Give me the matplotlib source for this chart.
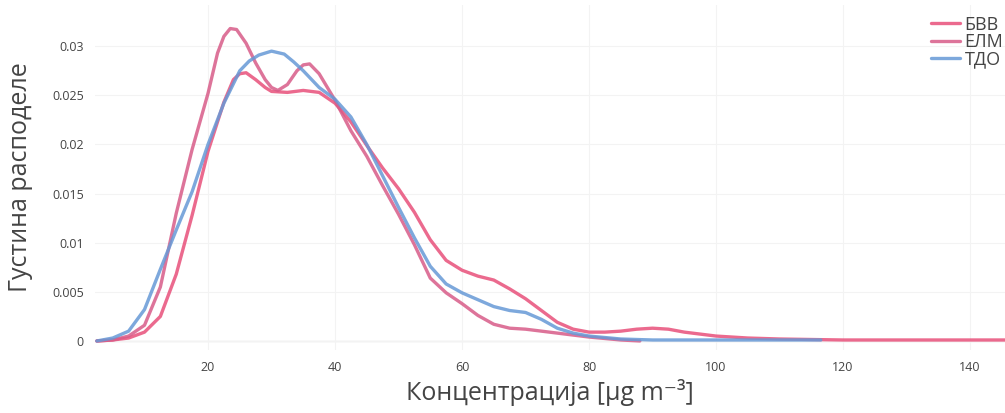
import matplotlib
matplotlib.use("Agg")

import matplotlib.pyplot as plt

plt.rcParams["font.family"] = ["Open Sans", "DejaVu Sans"]

# --- data ---
bvv_x = [2.5, 5, 7.5, 10, 12.5, 15, 17.5, 20, 22.5, 24, 25, 26, 27.5, 29, 30, 32.5,
         35, 37.5, 40, 42.5, 45, 47.5, 50, 52.5, 55, 57.5, 60, 62.5, 65, 67.5, 70,
         72.5, 75, 77.5, 80, 82.5, 85, 87.5, 90, 92.5, 95, 100, 105, 110, 120, 130, 146]
bvv_y = [0.0, 0.0001, 0.0003, 0.0009, 0.0025, 0.0068, 0.0128, 0.0193, 0.0243, 0.0266,
         0.0272, 0.0273, 0.0266, 0.0258, 0.0254, 0.0253, 0.0255, 0.0253, 0.0242,
         0.0223, 0.0199, 0.0176, 0.0155, 0.0131, 0.0103, 0.0082, 0.0072, 0.0066,
         0.0062, 0.0053, 0.0043, 0.0031, 0.0019, 0.0012, 0.0009, 0.0009, 0.0010,
         0.0012, 0.0013, 0.0012, 0.0009, 0.0005, 0.0003, 0.0002, 0.0001, 0.0001, 0.0001]

elm_x = [2.5, 5, 7.5, 10, 12.5, 15, 17.5, 20, 21.5, 22.5, 23.5, 24.5, 26, 27.5, 29,
         30, 31, 32.5, 34, 35, 36, 37.5, 40, 42.5, 45, 47.5, 50, 52.5, 55, 57.5, 60,
         62.5, 65, 67.5, 70, 72.5, 75, 77.5, 80, 85, 88]
elm_y = [0.0, 0.0001, 0.0005, 0.0016, 0.0055, 0.0130, 0.0195, 0.0252, 0.0293, 0.0310,
         0.0318, 0.0317, 0.0303, 0.0283, 0.0266, 0.0258, 0.0255, 0.0261, 0.0275,
         0.0281, 0.0282, 0.0272, 0.0245, 0.0214, 0.0188, 0.0158, 0.0129, 0.0098,
         0.0064, 0.0049, 0.0038, 0.0026, 0.0017, 0.0013, 0.0012, 0.0010, 0.0008,
         0.0006, 0.0004, 0.0001, 0.0]

tdo_x = [2.5, 5, 7.5, 10, 12.5, 15, 17.5, 20, 22.5, 25, 26.5, 28, 30, 32, 33.5, 35,
         37.5, 40, 42.5, 45, 47.5, 50, 52.5, 55, 57.5, 60, 62.5, 65, 67.5, 70, 72.5,
         75, 77.5, 80, 85, 90, 100, 110, 116.5]
tdo_y = [0.0, 0.0003, 0.0010, 0.0032, 0.0073, 0.0113, 0.0152, 0.0200, 0.0242, 0.0275,
         0.0285, 0.0291, 0.0295, 0.0292, 0.0284, 0.0275, 0.0258, 0.0246, 0.0228,
         0.0200, 0.0168, 0.0136, 0.0105, 0.0076, 0.0058, 0.0049, 0.0042, 0.0035,
         0.0031, 0.0029, 0.0022, 0.0013, 0.0008, 0.0005, 0.0002, 0.0001, 0.0001,
         0.0001, 0.0001]

series = [
    ("БВВ", bvv_x, bvv_y, "#e8507a"),
    ("ЕЛМ", elm_x, elm_y, "#d85c88"),
    ("ТДО", tdo_x, tdo_y, "#6699d6"),
]

x_ticks = [20, 40, 60, 80, 100, 120, 140]
y_ticks = [0, 0.005, 0.01, 0.015, 0.02, 0.025, 0.03]
y_tick_labels = ["0", "0.005", "0.01", "0.015", "0.02", "0.025", "0.03"]

fig = plt.figure(figsize=(10.05, 4.13), dpi=100)
ax = fig.add_axes([0.0945, 0.153, 0.9055, 0.835])

for name, xs, ys, color in series:
    ax.plot(xs, ys, color=color, lw=2.4, alpha=0.85, label=name,
            solid_capstyle="round", solid_joinstyle="round")

ax.set_xlim(2.2, 145.5)
ax.set_ylim(-0.0009, 0.0342)
ax.set_xticks(x_ticks)
ax.set_yticks(y_ticks)
ax.set_yticklabels(y_tick_labels)
ax.tick_params(length=0, labelsize=9, colors="#444444", pad=8)
ax.grid(True, color="#f3f3f3", lw=0.8)
ax.axhline(0, color="#e4e4e4", lw=1, zorder=0)
for s in ax.spines.values():
    s.set_visible(False)

ax.set_xlabel("Концентрација [μg m⁻³]", fontsize=18, color="#444444", labelpad=4)
ax.set_ylabel("Густина расподеле", fontsize=18, color="#444444", labelpad=14)

ax.legend(loc="upper right", bbox_to_anchor=(1.01, 1.0), frameon=False,
          fontsize=13, handlelength=1.6, handletextpad=0.25, labelspacing=-0.05,
          borderaxespad=0.2, labelcolor="#444444")

fig.savefig("out.png", dpi=100)
